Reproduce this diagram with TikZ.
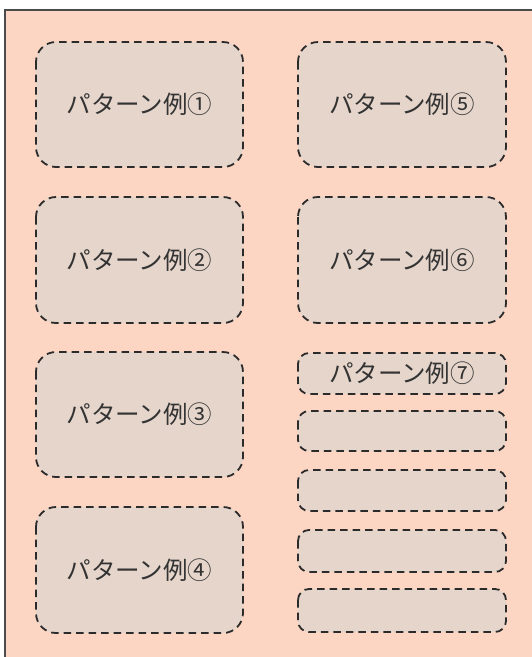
\documentclass[tikz,border=0pt]{standalone}
\usepackage{fontspec}
\newfontfamily\jpfont{Noto Sans CJK JP}
\definecolor{bgpeach}{HTML}{FDD5C3}
\definecolor{boxfill}{HTML}{E5D5CB}
\definecolor{edge}{HTML}{2B2B2B}
\definecolor{txt}{HTML}{333333}
\tikzset{
  bigbox/.style={draw=edge, fill=boxfill, line width=1.8pt, dash pattern=on 7.5pt off 5pt, rounded corners=20pt},
  smallbox/.style={draw=edge, fill=boxfill, line width=1.8pt, dash pattern=on 7.5pt off 5pt, rounded corners=11pt},
  lbl/.style={font=\jpfont\fontsize{24.5}{28}\selectfont, text=txt}
}
\begin{document}
\begin{tikzpicture}[x=1pt,y=-1pt]
\useasboundingbox (0,0) rectangle (532,657);
\clip (0,0) rectangle (532,657);
\fill[white] (0,0) rectangle (532,657);
\draw[draw=edge!85, fill=bgpeach, line width=1.2pt] (5,10) rectangle (560,690);
% left column
\draw[bigbox] (36,42) rectangle (243,167) node[midway,lbl] (p1) {パターン例①};
\draw[bigbox] (36,197) rectangle (243,323) node[midway,lbl] (p2) {パターン例②};
\draw[bigbox] (36,352) rectangle (243,477) node[midway,lbl] (p3) {パターン例③};
\draw[bigbox] (36,507) rectangle (243,633) node[midway,lbl] (p4) {パターン例④};
% right column
\draw[bigbox] (298,42) rectangle (506,167) node[midway,lbl] (p5) {パターン例⑤};
\draw[bigbox] (298,197) rectangle (506,323) node[midway,lbl] (p6) {パターン例⑥};
\draw[smallbox] (298,353) rectangle (506,394) node[midway,lbl] (p7) {パターン例⑦};
\draw[smallbox] (298,411) rectangle (506,451);
\draw[smallbox] (298,470) rectangle (506,511);
\draw[smallbox] (298,530) rectangle (506,572);
\draw[smallbox] (298,589) rectangle (506,632);
\end{tikzpicture}
\end{document}
